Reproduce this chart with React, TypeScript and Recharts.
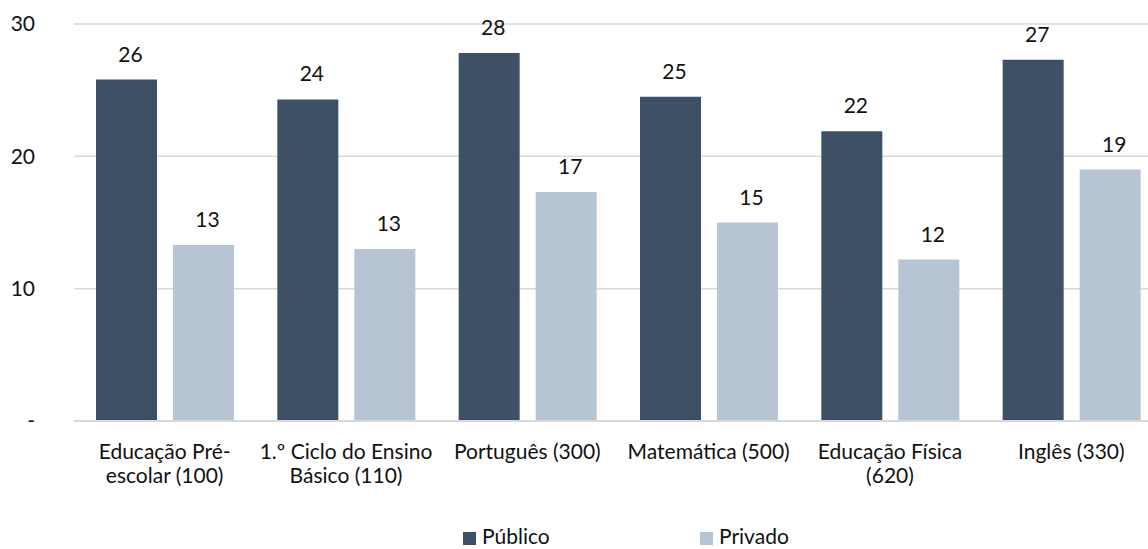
import React from 'react';
import { BarChart, Bar, XAxis, YAxis, CartesianGrid, LabelList, Legend } from 'recharts';

const categories = [
  'Educação Pré-escolar (100)',
  '1.º Ciclo do Ensino Básico (110)',
  'Português (300)',
  'Matemática (500)',
  'Educação Física (620)',
  'Inglês (330)',
];
const tickLines: string[][] = [
  ['Educação Pré-', 'escolar (100)'],
  ['1.º Ciclo do Ensino', 'Básico (110)'],
  ['Português (300)'],
  ['Matemática (500)'],
  ['Educação Física', '(620)'],
  ['Inglês (330)'],
];
const publico = [25.8, 24.3, 27.8, 24.5, 21.9, 27.3];
const privado = [13.3, 13.0, 17.3, 15.0, 12.2, 19.0];
const yTicks = [0, 10, 20, 30];
const seriesNames = ['Público', 'Privado'];

const DARK = '#3e5066';
const LIGHT = '#b7c4d4';
const FONT = 'Lato, "Noto Sans", sans-serif';
const FS = 21;

const data = categories.map((c, i) => ({ name: c, publico: publico[i], privado: privado[i] }));

const CatTick = (props: any) => {
  const { x, y, index } = props;
  const lines = tickLines[index] || [String(props.payload.value)];
  return (
    <text x={x} y={y + 38} textAnchor="middle" fontFamily={FONT} fontSize={FS} fill="#111">
      {lines.map((l, i) => (
        <tspan key={i} x={x} dy={i === 0 ? 0 : 24}>{l}</tspan>
      ))}
    </text>
  );
};

const ValueLabel = (props: any) => {
  const { x, y, width, value } = props;
  return (
    <text x={x + width / 2 + 4} y={y - 18} textAnchor="middle" fontFamily={FONT} fontSize={FS} fill="#111">
      {Math.round(value)}
    </text>
  );
};

const LegendContent = () => (
  <div style={{ position: 'relative', width: 1170, height: 40, fontFamily: FONT, fontSize: FS, color: '#111' }}>
    <div style={{ position: 'absolute', left: 463, top: 23, width: 13, height: 13, background: DARK }} />
    <div style={{ position: 'absolute', left: 482, top: 15, lineHeight: '24px' }}>{seriesNames[0]}</div>
    <div style={{ position: 'absolute', left: 700, top: 23, width: 13, height: 13, background: LIGHT }} />
    <div style={{ position: 'absolute', left: 719, top: 15, lineHeight: '24px' }}>{seriesNames[1]}</div>
  </div>
);

export default function App() {
  return (
    <div style={{ position: 'absolute', left: 0, top: 0, width: 1148, height: 549, overflow: 'hidden', background: '#fff' }}>
      <BarChart
        width={1170}
        height={549}
        data={data}
        margin={{ top: 24, right: 8, bottom: 0, left: 0 }}
        barSize={61}
        barGap={16}
      >
        <CartesianGrid horizontal vertical={false} stroke="#d9d9d9" strokeWidth={1.5} />
        <XAxis
          dataKey="name"
          interval={0}
          tickLine={false}
          tickSize={0}
          tickMargin={0}
          height={88}
          axisLine={{ stroke: '#d9d9d9', strokeWidth: 2 }}
          tick={<CatTick />}
        />
        <YAxis
          width={74}
          domain={[0, 30]}
          ticks={yTicks}
          interval={0}
          axisLine={false}
          tickLine={false}
          tickSize={0}
          tickMargin={39}
          tickFormatter={(v: number) => (v === 0 ? '-' : String(v))}
          tick={{ fontFamily: FONT, fontSize: FS, fill: '#111' }}
        />
        <Legend verticalAlign="bottom" height={40} wrapperStyle={{ left: 0, width: 1170 }} content={<LegendContent />} />
        <Bar dataKey="publico" name={seriesNames[0]} fill={DARK} isAnimationActive={false}>
          <LabelList dataKey="publico" content={<ValueLabel />} />
        </Bar>
        <Bar dataKey="privado" name={seriesNames[1]} fill={LIGHT} isAnimationActive={false}>
          <LabelList dataKey="privado" content={<ValueLabel />} />
        </Bar>
      </BarChart>
    </div>
  );
}
